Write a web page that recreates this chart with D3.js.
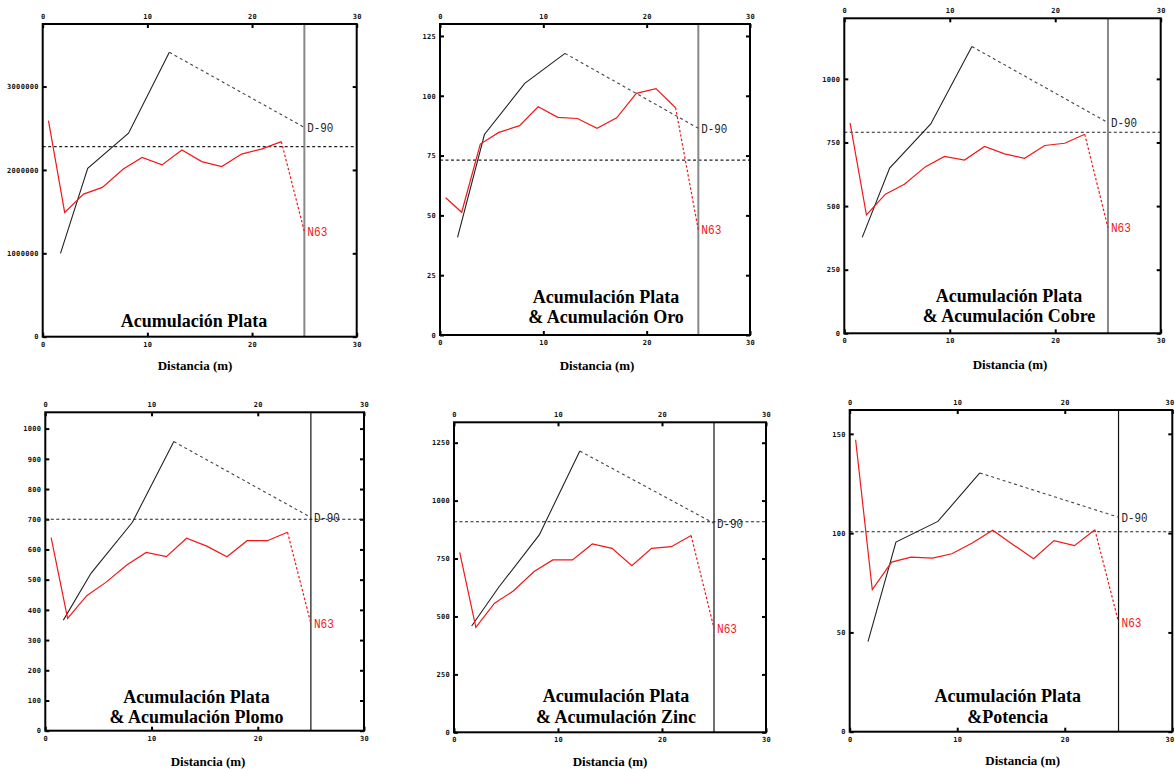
<!DOCTYPE html>
<html>
<head>
<meta charset="utf-8">
<script src="https://cdn.jsdelivr.net/npm/d3@7/dist/d3.min.js"></script>
<style>
  html, body { margin: 0; padding: 0; background: #fff; }
  svg { display: block; }
  .tick text { font-family: "DejaVu Sans Mono", monospace; font-size: 7px; font-weight: bold; fill: #111; }
</style>
</head>
<body>
<svg id="chart" width="1175" height="769"></svg>
<script>
// Sampling distances (m) along the section for each hole
const distN63 = [0.55, 2.1, 3.9, 5.7, 7.7, 9.5, 11.4, 13.3, 15.2, 17.1, 19.0, 20.9, 22.8, 25];
const distD90 = [1.7, 4.3, 8.2, 12.1, 25];

// Panel 1: Acumulación Plata
const plataN63 = [2590000, 1490000, 1710000, 1790000, 2010000, 2150000, 2060000, 2240000, 2100000, 2040000, 2190000, 2250000, 2340000, 1260000];
const plataD90 = [1000000, 2020000, 2440000, 3410000, 2510000];
const plataRef = 2280000;
const plataTicks = [0, 1000000, 2000000, 3000000];

// Panel 2: Plata & Oro
const oroN63 = [57.4, 51.3, 79.8, 84.7, 87.5, 95.4, 91.0, 90.5, 86.4, 90.8, 101, 103, 95, 43.9];
const oroD90 = [40.8, 83.8, 105.2, 117.7, 86.4];
const oroRef = 73.1;
const oroTicks = [0, 25, 50, 75, 100, 125];

// Panel 3: Plata & Cobre
const cobreN63 = [826, 465, 547, 586, 655, 695, 681, 734, 705, 688, 738, 747, 782, 415];
const cobreD90 = [377, 649, 823, 1127, 828];
const cobreRef = 790;
const cobreTicks = [0, 250, 500, 750, 1000];

// Panel 4: Plata & Plomo
const plomoN63 = [639, 372, 447, 491, 549, 590, 576, 637, 611, 576, 629, 629, 657, 355];
const plomoD90 = [366, 521, 690, 957, 706];
const plomoRef = 700;
const plomoTicks = [0, 100, 200, 300, 400, 500, 600, 700, 800, 900, 1000];

// Panel 5: Plata & Zinc
const zincN63 = [777, 453, 557, 610, 694, 744, 744, 813, 794, 719, 794, 801, 849, 449];
const zincD90 = [459, 626, 852, 1214, 902];
const zincRef = 909;
const zincTicks = [0, 250, 500, 750, 1000, 1250];

// Panel 6: Plata & Potencia
const potenciaN63 = [147, 71.5, 85.4, 87.9, 87.4, 89.6, 95, 101.4, 94.2, 87.1, 96.2, 93.7, 101.7, 55.2];
const potenciaD90 = [45.4, 95.5, 105.9, 130.3, 108];
const potenciaRef = 100.7;
const potenciaTicks = [0, 50, 100, 150];

const xTicks = [0, 10, 20, 30];
const contactDist = 25;
const labelD90 = "D-90";
const labelN63 = "N63";
const xTitle = "Distancia (m)";

const titles = [
  ["Acumulación Plata"],
  ["Acumulación Plata", "& Acumulación Oro"],
  ["Acumulación Plata", "& Acumulación Cobre"],
  ["Acumulación Plata", "& Acumulación Plomo"],
  ["Acumulación Plata", "& Acumulación Zinc"],
  ["Acumulación Plata", "&Potencia"]
];

const series = [
  { n63: plataN63, d90: plataD90, ref: plataRef, ticks: plataTicks, ymax: 3750000 },
  { n63: oroN63, d90: oroD90, ref: oroRef, ticks: oroTicks, ymax: 130 },
  { n63: cobreN63, d90: cobreD90, ref: cobreRef, ticks: cobreTicks, ymax: 1238 },
  { n63: plomoN63, d90: plomoD90, ref: plomoRef, ticks: plomoTicks, ymax: 1054 },
  { n63: zincN63, d90: zincD90, ref: zincRef, ticks: zincTicks, ymax: 1338 },
  { n63: potenciaN63, d90: potenciaD90, ref: potenciaRef, ticks: potenciaTicks, ymax: 162 }
];

// Frame geometry and text placement of each panel
const layout = [
  { l: 42.7, r: 356.7, t: 24, b: 336.7, tx: 194, ty: [327], lx: 195, ly: 370, vcol: "#888", vw: 2 },
  { l: 440, r: 750, t: 24, b: 335, tx: 606, ty: [302.7, 322.7], lx: 597, ly: 370, vcol: "#888", vw: 2 },
  { l: 844.3, r: 1160.7, t: 18.3, b: 333.3, tx: 1009, ty: [302, 322], lx: 1010, ly: 369, vcol: "#888", vw: 2 },
  { l: 45.3, r: 364, t: 412.3, b: 730.7, tx: 196.5, ty: [702.7, 723.3], lx: 208, ly: 766, vcol: "#111", vw: 1.2 },
  { l: 454, r: 766, t: 422.3, b: 732.3, tx: 616, ty: [702.3, 723.3], lx: 610, ly: 766, vcol: "#111", vw: 1.2 },
  { l: 849.7, r: 1172.3, t: 410, b: 731.7, tx: 1007.7, ty: [702.3, 723.3], lx: 1022.7, ly: 765, vcol: "#111", vw: 1.2 }
];

const W = 1175, H = 769;
const svg = d3.select("#chart");
svg.append("rect").attr("width", W).attr("height", H).attr("fill", "#fff");

series.forEach((s, i) => {
  const L = layout[i];
  const x = d3.scaleLinear().domain([0, 30]).range([L.l, L.r]);
  const y = d3.scaleLinear().domain([0, s.ymax]).range([L.b, L.t]);
  const g = svg.append("g");

  const fmt = d3.format("d");

  // Axes with inward ticks on all four sides
  const axL = d3.axisLeft(y).tickValues(s.ticks).tickFormat(fmt).tickSizeInner(-4).tickSizeOuter(0).tickPadding(4);
  const axR = d3.axisRight(y).tickValues(s.ticks).tickFormat("").tickSizeInner(-4).tickSizeOuter(0);
  const axT = d3.axisTop(x).tickValues(xTicks).tickFormat(fmt).tickSizeInner(-4).tickSizeOuter(0).tickPadding(5);
  const axB = d3.axisBottom(x).tickValues(xTicks).tickFormat(fmt).tickSizeInner(-4).tickSizeOuter(0).tickPadding(5);

  const gl = g.append("g").attr("transform", `translate(${L.l},0)`).call(axL);
  const gr = g.append("g").attr("transform", `translate(${L.r},0)`).call(axR);
  const gt = g.append("g").attr("transform", `translate(0,${L.t})`).call(axT);
  const gb = g.append("g").attr("transform", `translate(0,${L.b})`).call(axB);
  [gl, gr, gt, gb].forEach(a => {
    a.select(".domain").remove();
    a.selectAll(".tick line").attr("stroke", "#000").attr("stroke-width", 2);
    a.selectAll(".tick text").attr("letter-spacing", 0.3);
  });
  // Keep x tick labels that sit at the page's right edge inside the page
  [gt, gb].forEach(a => {
    a.selectAll(".tick").each(function (d) {
      if (x(d) + 5 > W) {
        d3.select(this).select("text")
          .attr("text-anchor", "end")
          .attr("x", W - 1 - x(d));
      }
    });
  });

  // Mean reference line
  g.append("line")
    .attr("x1", x(0)).attr("x2", x(30))
    .attr("y1", y(s.ref)).attr("y2", y(s.ref))
    .attr("stroke", "#222").attr("stroke-width", 1.1).attr("stroke-dasharray", "3,2.5");

  // Contact marker
  g.append("line")
    .attr("x1", x(contactDist)).attr("x2", x(contactDist))
    .attr("y1", L.t).attr("y2", L.b)
    .attr("stroke", L.vcol).attr("stroke-width", L.vw);

  const line = d3.line().x(d => x(d[0])).y(d => y(d[1]));
  const n63 = distN63.map((d, k) => [d, s.n63[k]]);
  const d90 = distD90.map((d, k) => [d, s.d90[k]]);

  // D-90 profile: measured part solid, projection to the contact dashed
  g.append("path").datum(d90.slice(0, 4)).attr("d", line)
    .attr("fill", "none").attr("stroke", "#222").attr("stroke-width", 1.1);
  g.append("path").datum(d90.slice(3)).attr("d", line)
    .attr("fill", "none").attr("stroke", "#444").attr("stroke-width", 1.1).attr("stroke-dasharray", "3,3");

  // N63 profile
  g.append("path").datum(n63.slice(0, 13)).attr("d", line)
    .attr("fill", "none").attr("stroke", "#f01818").attr("stroke-width", 1.2);
  g.append("path").datum(n63.slice(12)).attr("d", line)
    .attr("fill", "none").attr("stroke", "#f01818").attr("stroke-width", 1.2).attr("stroke-dasharray", "2.5,2");

  // End labels
  g.append("text")
    .attr("x", x(contactDist) + 3).attr("y", y(s.d90[4]) + 4.5)
    .attr("font-family", "Liberation Mono, monospace").attr("font-size", 13)
    .attr("textLength", 26).attr("lengthAdjust", "spacingAndGlyphs")
    .attr("fill", "#222").text(labelD90);
  g.append("text")
    .attr("x", x(contactDist) + 3).attr("y", y(s.n63[13]) + 4.5)
    .attr("font-family", "Liberation Mono, monospace").attr("font-size", 13)
    .attr("textLength", 20).attr("lengthAdjust", "spacingAndGlyphs")
    .attr("fill", "#f01818").text(labelN63);

  // Frame
  g.append("rect")
    .attr("x", L.l).attr("y", L.t)
    .attr("width", L.r - L.l).attr("height", L.b - L.t)
    .attr("fill", "none").attr("stroke", "#000").attr("stroke-width", 2);

  // Panel title
  titles[i].forEach((t, k) => {
    g.append("text")
      .attr("x", L.tx).attr("y", L.ty[k])
      .attr("text-anchor", "middle")
      .attr("font-family", "Liberation Serif, Times New Roman, serif")
      .attr("font-weight", "bold").attr("font-size", 18)
      .attr("fill", "#000").text(t);
  });

  // X axis title
  g.append("text")
    .attr("x", L.lx).attr("y", L.ly)
    .attr("text-anchor", "middle")
    .attr("font-family", "Liberation Serif, Times New Roman, serif")
    .attr("font-weight", "bold").attr("font-size", 13)
    .attr("fill", "#000").text(xTitle);
});
</script>
</body>
</html>
